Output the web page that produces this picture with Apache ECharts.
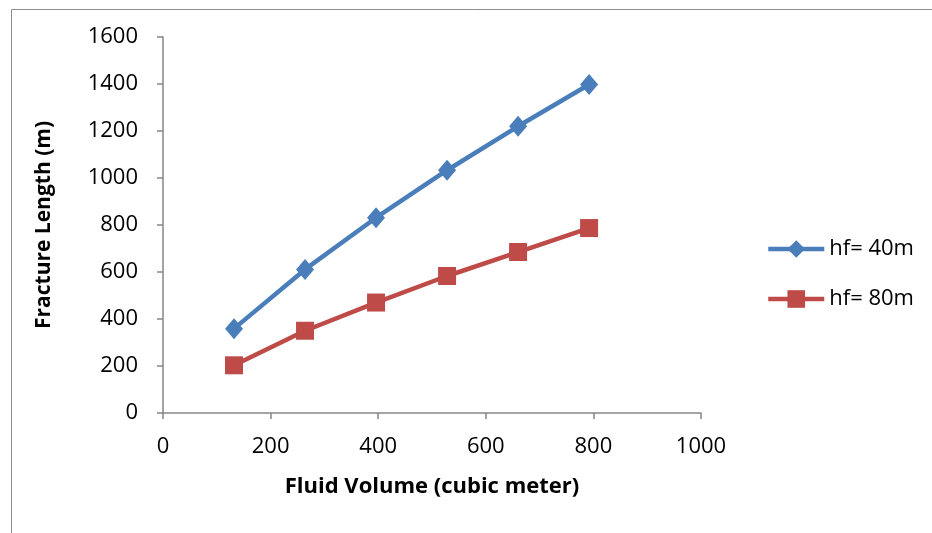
<!DOCTYPE html>
<html>
<head>
<meta charset="utf-8">
<script src="https://cdn.jsdelivr.net/npm/echarts@6/dist/echarts.min.js"></script>
<style>
	html, body { margin: 0; padding: 0; background: #fff; }
	#chart { width: 932px; height: 533px; }
</style>
</head>
<body>
<div id="chart"></div>
<script>
// fluid volume (cubic meter)
var volume = [ 132, 264, 396, 528, 660, 792 ];
// fracture length (m)
var hf40 = [ 359, 611, 831, 1033, 1220, 1398 ];
var hf80 = [ 203, 350, 470, 583, 685, 787 ];
var seriesNames = [ 'hf= 40m', 'hf= 80m' ];

function pairs(xs, ys) {
	var out = [];
	for ( var i = 0; i < xs.length; i++) {
		out.push([ xs[i], ys[i] ]);
	}
	return out;
}
function plain(v) {
	return String(v);
}

var chart = echarts.init(document.getElementById('chart'));
var font = 'Open Sans';
var option = {
	animation : false,
	textStyle : { fontFamily : font },
	graphic : [ {
		type : 'rect',
		left : 9, top : 7,
		shape : { width : 940, height : 560 },
		style : { fill : 'none', stroke : '#8c8c8c', lineWidth : 1 },
		silent : true
	} ],
	grid : { left : 163, right : 231, top : 37, bottom : 120 },
	legend : {
		orient : 'vertical',
		left : 761, top : 233,
		itemWidth : 56, itemHeight : 22, itemGap : 28,
		lineStyle : { width : 4.5 },
		textStyle : { fontSize : 22, color : '#000', fontFamily : font },
		data : seriesNames
	},
	xAxis : {
		type : 'value',
		min : 0, max : 1000, interval : 200,
		name : 'Fluid Volume (cubic meter)',
		nameLocation : 'middle', nameGap : 63,
		nameTextStyle : { fontSize : 22, fontWeight : 'bold', color : '#000' },
		axisLine : { show : true, lineStyle : { color : '#868686', width : 1.5 } },
		axisTick : { show : true, length : 6, lineStyle : { color : '#868686', width : 1.5 } },
		axisLabel : { fontSize : 22, color : '#000', margin : 23, formatter : plain },
		splitLine : { show : false }
	},
	yAxis : {
		type : 'value',
		min : 0, max : 1600, interval : 200,
		name : 'Fracture Length (m)',
		nameLocation : 'middle', nameGap : 108,
		nameTextStyle : { fontSize : 21, fontWeight : 'bold', color : '#000' },
		axisLine : { show : true, lineStyle : { color : '#868686', width : 1.5 } },
		axisTick : { show : true, length : 6, lineStyle : { color : '#868686', width : 1.5 } },
		axisLabel : { fontSize : 22, color : '#000', margin : 25, formatter : plain },
		splitLine : { show : false }
	},
	series : [ {
		name : seriesNames[0],
		type : 'line',
		data : pairs(volume, hf40),
		symbol : 'diamond',
		symbolSize : [ 18, 21 ],
		color : '#4a7ebb',
		lineStyle : { width : 4.5, color : '#4a7ebb' },
		itemStyle : { color : '#4a7ebb' }
	}, {
		name : seriesNames[1],
		type : 'line',
		data : pairs(volume, hf80),
		symbol : 'rect',
		symbolSize : 18,
		color : '#be4b48',
		lineStyle : { width : 4.5, color : '#be4b48' },
		itemStyle : { color : '#be4b48' }
	} ]
};
chart.setOption(option);
window.onresize = chart.resize;
</script>
</body>
</html>
